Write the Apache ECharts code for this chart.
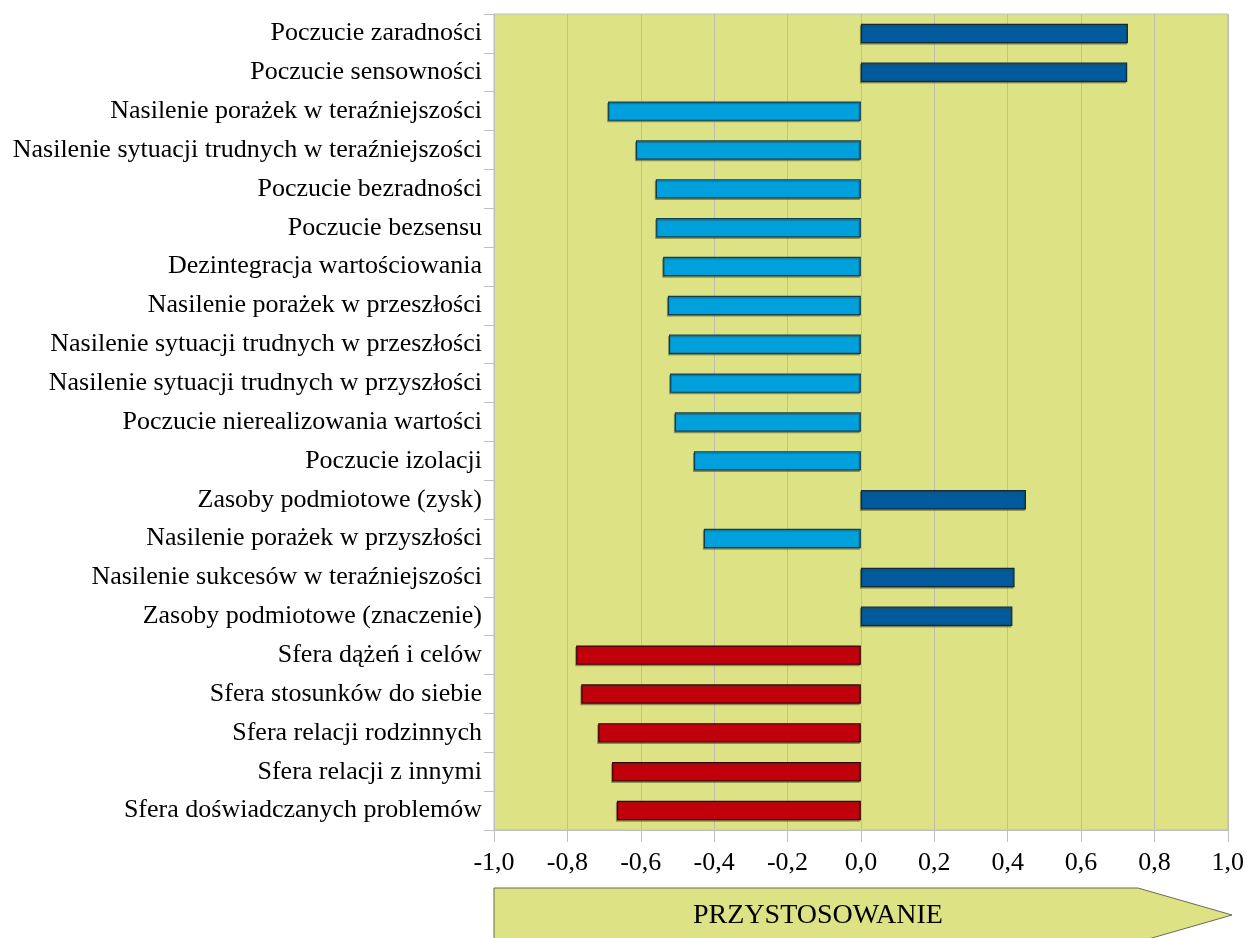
<!DOCTYPE html>
<html>
<head>
<meta charset="utf-8">
<script src="https://cdn.jsdelivr.net/npm/echarts@6/dist/echarts.min.js"></script>
<style>
  html, body { margin: 0; padding: 0; background: #fff; }
  #chart { width: 1247px; height: 938px; }
</style>
</head>
<body>
<div id="chart"></div>
<script>
const categories = [
  'Poczucie zaradności',
  'Poczucie sensowności',
  'Nasilenie porażek w teraźniejszości',
  'Nasilenie sytuacji trudnych w teraźniejszości',
  'Poczucie bezradności',
  'Poczucie bezsensu',
  'Dezintegracja wartościowania',
  'Nasilenie porażek w przeszłości',
  'Nasilenie sytuacji trudnych w przeszłości',
  'Nasilenie sytuacji trudnych w przyszłości',
  'Poczucie nierealizowania wartości',
  'Poczucie izolacji',
  'Zasoby podmiotowe (zysk)',
  'Nasilenie porażek w przyszłości',
  'Nasilenie sukcesów w teraźniejszości',
  'Zasoby podmiotowe (znaczenie)',
  'Sfera dążeń i celów',
  'Sfera stosunków do siebie',
  'Sfera relacji rodzinnych',
  'Sfera relacji z innymi',
  'Sfera doświadczanych problemów'
];

const values = [
  0.728, 0.726, -0.689, -0.613, -0.559, -0.558, -0.539, -0.526, -0.523, -0.520,
  -0.507, -0.455, 0.450, -0.428, 0.419, 0.413, -0.776, -0.762, -0.716, -0.678, -0.665
];

// group of each indicator: 'zasob' (resource), 'obciazenie' (burden), 'sfera'
const groups = [
  'zasob', 'zasob', 'obciazenie', 'obciazenie', 'obciazenie', 'obciazenie', 'obciazenie',
  'obciazenie', 'obciazenie', 'obciazenie', 'obciazenie', 'obciazenie', 'zasob', 'obciazenie',
  'zasob', 'zasob', 'sfera', 'sfera', 'sfera', 'sfera', 'sfera'
];

const axisTitle = 'PRZYSTOSOWANIE';

const groupColors = { zasob: '#005a9b', obciazenie: '#00a0dc', sfera: '#c0000b' };
const groupBorders = { zasob: '#0b2c45', obciazenie: '#0c3f55', sfera: '#3d0005' };

const chart = echarts.init(document.getElementById('chart'));

const FONT = '"Liberation Serif", "DejaVu Serif", serif';

const option = {
  animation: false,
  textStyle: { fontFamily: FONT },
  grid: {
    left: 494,
    right: 17,
    top: 14,
    bottom: 108,
    show: true,
    backgroundColor: '#dde284',
    borderColor: '#bfbfbf',
    borderWidth: 1
  },
  xAxis: {
    type: 'value',
    min: -1,
    max: 1,
    interval: 0.2,
    axisLine: { show: true, lineStyle: { color: '#bfbfbf' } },
    axisTick: { show: true, length: 12, lineStyle: { color: '#bfbfbf' } },
    splitLine: { show: true, lineStyle: { color: '#bdbdb0', width: 1 } },
    axisLabel: {
      margin: 20,
      color: '#000',
      fontSize: 26,
      fontFamily: FONT,
      formatter: v => v.toFixed(1).replace('.', ',')
    }
  },
  yAxis: {
    type: 'category',
    data: categories,
    inverse: true,
    axisLine: { show: true, onZero: false, lineStyle: { color: '#bfbfbf' } },
    axisTick: { show: true, length: 10, lineStyle: { color: '#bfbfbf' } },
    axisLabel: {
      margin: 12,
      color: '#000',
      fontSize: 26,
      fontFamily: FONT,
      padding: [4, 0, 0, 0]
    }
  },
  series: [{
    type: 'bar',
    barWidth: '50%',
    data: values.map((v, i) => ({
      value: v,
      itemStyle: {
        color: groupColors[groups[i]],
        borderColor: groupBorders[groups[i]],
        borderWidth: 1.2,
        shadowColor: 'rgba(60,60,30,0.4)',
        shadowOffsetX: -1,
        shadowOffsetY: 1.5,
        shadowBlur: 0
      }
    }))
  }],
  graphic: [{
    type: 'polygon',
    shape: {
      points: [[494, 888], [1138, 888], [1232, 915], [1138, 942], [494, 942]]
    },
    style: { fill: '#dde284', stroke: '#6b6b55', lineWidth: 1 }
  }, {
    type: 'text',
    x: 818,
    y: 916,
    style: {
      text: axisTitle,
      fill: '#000',
      font: '28px ' + FONT,
      textAlign: 'center',
      textVerticalAlign: 'middle'
    }
  }]
};

chart.setOption(option);
window.addEventListener('resize', () => chart.resize());
</script>
</body>
</html>
